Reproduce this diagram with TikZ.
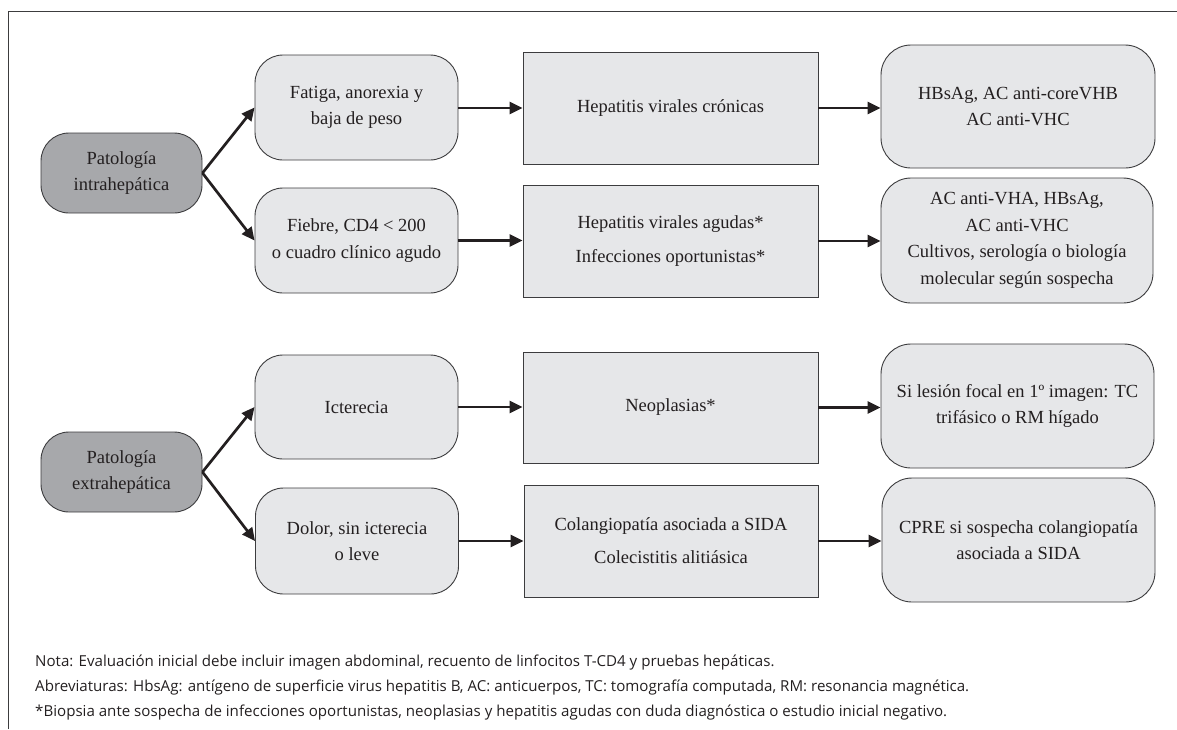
\documentclass[tikz,border=0pt]{standalone}
\usepackage{fontspec}
\setmainfont{Liberation Serif}
\newfontfamily\notefont{Open Sans}
\usetikzlibrary{arrows.meta}
\definecolor{lightfill}{RGB}{230,231,233}
\definecolor{darkfill}{RGB}{167,168,171}
\definecolor{edgegray}{RGB}{60,60,62}
\definecolor{inkc}{RGB}{35,31,32}
\tikzset{
  boxtext/.style={font=\fontsize{18.5}{26.5}\selectfont, text=inkc, align=center, inner sep=0pt},
  catbox/.style={boxtext, draw=edgegray, line width=0.9pt, fill=darkfill, rounded corners=28pt},
  symbox/.style={boxtext, draw=edgegray, line width=0.9pt, fill=lightfill, rounded corners=28pt},
  dxbox/.style={boxtext, draw=edgegray, line width=0.9pt, fill=lightfill},
  testbox/.style={boxtext, draw=edgegray, line width=0.9pt, fill=lightfill, rounded corners=30pt},
  conn/.style={draw=inkc, line width=2.7pt, -{Triangle[length=13pt,width=12pt]}},
  notetext/.style={font=\notefont\fontsize{15.1}{18}\selectfont, text=inkc, anchor=base west, inner sep=0pt}
}
\begin{document}
\begin{tikzpicture}[x=1pt,y=-1pt]
\useasboundingbox (0,0) rectangle (1177,729);
% frame
\draw[draw=edgegray, line width=1pt] (8,729) -- (8,11.5) -- (1177,11.5);

% category nodes
\node[catbox, minimum width=161pt, minimum height=80pt] (p1) at (121.5,173) {Patología\\intrahepática};
\node[catbox, minimum width=161pt, minimum height=80pt] (p2) at (121.5,472) {Patología\\extrahepática};

% symptom nodes
\node[symbox, minimum width=203pt, minimum height=105pt] (s1) at (356.5,107.5) {Fatiga, anorexia y\\baja de peso};
\node[symbox, minimum width=203pt, minimum height=105pt] (s2) at (356.5,240.5) {Fiebre, CD4 < 200\\o cuadro clínico agudo};
\node[symbox, minimum width=203pt, minimum height=104pt] (s3) at (356.5,407) {Icterecia};
\node[symbox, minimum width=203pt, minimum height=106pt] (s4) at (357,541) {Dolor, sin icterecia\\o leve};

% diagnosis nodes
\node[dxbox, minimum width=295pt, minimum height=112pt] (d1) at (670.5,108) {Hepatitis virales crónicas};
\node[dxbox, minimum width=295pt, minimum height=112pt] (d2) at (670.5,241) {Hepatitis virales agudas*\\[8pt]Infecciones oportunistas*};
\node[dxbox, minimum width=295pt, minimum height=111pt] (d3) at (670.5,407.5) {Neoplasias*};
\node[dxbox, minimum width=294pt, minimum height=112pt] (d4) at (671,541) {Colangiopatía asociada a SIDA\\[6.5pt]Colecistitis alitiásica};

% test nodes
\node[testbox, minimum width=274pt, minimum height=123pt] (t1) at (1018,106.5) {HBsAg, AC anti-coreVHB\\AC anti-VHC};
\node[testbox, minimum width=272pt, minimum height=125pt] (t2) at (1017,240.5) {AC anti-VHA, HBsAg,\\AC anti-VHC\\Cultivos, serología o biología\\molecular según sospecha};
\node[testbox, minimum width=273pt, minimum height=124pt] (t3) at (1017.5,406) {Si lesión focal en 1º imagen: TC\\trifásico o RM hígado};
\node[testbox, minimum width=273pt, minimum height=124pt] (t4) at (1018.5,540) {CPRE si sospecha colangiopatía\\asociada a SIDA};

% connectors
\draw[conn] (p1.east) -- (s1.west);
\draw[conn] (p1.east) -- (s2.west);
\draw[conn] (p2.east) -- (s3.west);
\draw[conn] (p2.east) -- (s4.west);
\draw[conn] (s1.east |- d1.west) -- (d1.west);
\draw[conn] (s2.east) -- (s2.east -| d2.west);
\draw[conn] (s3.east) -- (s3.east -| d3.west);
\draw[conn] (s4.east) -- (s4.east -| d4.west);
\draw[conn] (d1.east) -- (d1.east -| t1.west);
\draw[conn] (d2.east) -- (d2.east -| t2.west);
\draw[conn] (d3.east) -- (d3.east -| t3.west);
\draw[conn] (d4.east) -- (d4.east -| t4.west);

% notes
\node[notetext] (n1) at (35,666) {Nota: Evaluación inicial debe incluir imagen abdominal, recuento de linfocitos T-CD4 y pruebas hepáticas.};
\node[notetext] (n2) at (35,691) {Abreviaturas: HbsAg: antígeno de superficie virus hepatitis B, AC: anticuerpos, TC: tomografía computada, RM: resonancia magnética.};
\node[notetext] (n3) at (35,716) {*Biopsia ante sospecha de infecciones oportunistas, neoplasias y hepatitis agudas con duda diagnóstica o estudio inicial negativo.};
\end{tikzpicture}
\end{document}
